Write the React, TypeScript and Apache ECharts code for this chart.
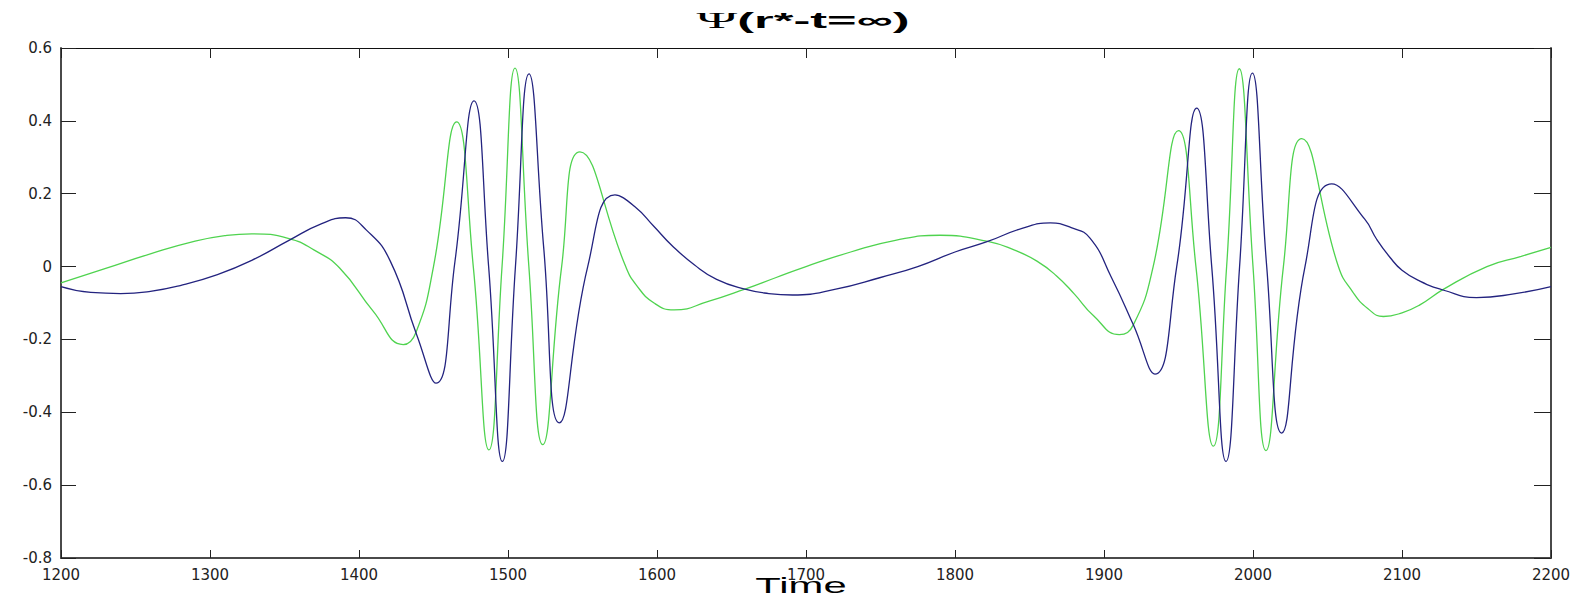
import React, { useEffect, useRef } from "react";
import * as echarts from "echarts";

// Time axis ticks and value axis ticks
const xTicks = [1200, 1300, 1400, 1500, 1600, 1700, 1800, 1900, 2000, 2100, 2200];
const yTicks = [-0.8, -0.6, -0.4, -0.2, 0, 0.2, 0.4, 0.6];

const titlePsi = "Ψ";
const titleRest = "(r*-t=∞)";
const xName = "Time";

// Blue (navy) curve: time values and amplitudes
const blueTime = [
  1200, 1220, 1240, 1260, 1280, 1305, 1328, 1353, 1375, 1391, 1405, 1421, 1438.7, 1451.7,
  1464.4, 1477.2, 1487, 1496.2, 1505, 1514.1, 1524, 1534.4, 1553.5, 1571.8, 1585, 1598,
  1610, 1625, 1640, 1659, 1675, 1691, 1720, 1750, 1775, 1800, 1822, 1845, 1864, 1878,
  1890.6, 1905, 1919.7, 1934.2, 1948.8, 1962.2, 1972.3, 1981.9, 1991, 1999.6, 2009.2,
  2019.2, 2034.9, 2052.8, 2075, 2083, 2092, 2100, 2112, 2128, 2150, 2175, 2200,
];
const blueValue = [
  -0.055, -0.071, -0.074, -0.068, -0.052, -0.022, 0.017, 0.072, 0.118, 0.134, 0.1, 0.015,
  -0.187, -0.32, 0.014, 0.455, 0, -0.535, 0, 0.529, 0.05, -0.429, 0, 0.197, 0.165, 0.11,
  0.058, 0.005, -0.035, -0.062, -0.074, -0.078, -0.062, -0.03, 0, 0.04, 0.069, 0.105, 0.12,
  0.107, 0.078, -0.03, -0.16, -0.295, 0, 0.435, 0, -0.535, 0, 0.531, 0, -0.457, 0, 0.227,
  0.13, 0.075, 0.025, -0.01, -0.04, -0.065, -0.085, -0.075, -0.055,
];

// Green curve: time values and amplitudes
const greenTime = [
  1200, 1230, 1260, 1290, 1310, 1328, 1353, 1370, 1387, 1409.6, 1429.7, 1438.3, 1450,
  1465.5, 1476.7, 1487.2, 1496, 1504.7, 1514, 1523.3, 1536, 1548.3, 1579, 1586, 1598,
  1611.5, 1635, 1659, 1680, 1700, 1730, 1760, 1790, 1822, 1840, 1855, 1868, 1880, 1893,
  1910.3, 1919.7, 1933, 1950, 1961.7, 1973.4, 1982.3, 1990.8, 2000, 2008.7, 2020.4, 2032.7,
  2057.3, 2067, 2077, 2087.5, 2100, 2112, 2128, 2157, 2180, 2200,
];
const greenValue = [
  -0.045, -0.005, 0.035, 0.07, 0.085, 0.09, 0.077, 0.045, -0.004, -0.123, -0.214, -0.18, 0,
  0.397, 0, -0.503, 0, 0.545, 0, -0.489, 0, 0.315, 0, -0.05, -0.1, -0.119, -0.095, -0.062,
  -0.03, 0, 0.04, 0.072, 0.086, 0.069, 0.045, 0.015, -0.025, -0.075, -0.135, -0.187, -0.16,
  0, 0.373, 0, -0.493, 0, 0.543, 0, -0.505, 0, 0.351, 0, -0.07, -0.115, -0.137, -0.127,
  -0.105, -0.062, 0, 0.028, 0.053,
];

const W = 1587;
const H = 599;

export default function App() {
  const ref = useRef<HTMLDivElement>(null);

  useEffect(() => {
    if (!ref.current) return;
    const chart = echarts.init(ref.current, undefined, { renderer: "svg" });

    const blueData = blueTime.map((t, i) => [t, blueValue[i]]);
    const greenData = greenTime.map((t, i) => [t, greenValue[i]]);

    const axisFont = {
      fontFamily: "DejaVu Sans",
      fontSize: 15,
      color: "#222",
    };
    const axisLine = { show: true, onZero: false, lineStyle: { color: "#4a4a4a", width: 2 } };

    chart.setOption({
      animation: false,
      backgroundColor: "#ffffff",
      grid: {
        left: 61,
        right: 36,
        top: 48,
        bottom: 41,
        outerBoundsMode: "none",
      },
      xAxis: [
        {
          type: "value",
          position: "bottom",
          min: xTicks[0],
          max: xTicks[xTicks.length - 1],
          interval: 100,
          axisLine,
          axisTick: { show: true, inside: true, length: 8, lineStyle: { color: "#222", width: 1 } },
          axisLabel: {
            ...axisFont,
            margin: 9,
            formatter: (v: number) => String(v),
          },
          splitLine: { show: false },
        },
        {
          type: "value",
          position: "top",
          min: xTicks[0],
          max: xTicks[xTicks.length - 1],
          interval: 100,
          axisLine: { show: true, onZero: false, lineStyle: { color: "#111", width: 1 } },
          axisTick: { show: true, inside: true, length: 10, lineStyle: { color: "#222", width: 1 } },
          axisLabel: { show: false },
          splitLine: { show: false },
        },
      ],
      yAxis: [
        {
          type: "value",
          position: "left",
          min: yTicks[0],
          max: yTicks[yTicks.length - 1],
          interval: 0.2,
          axisLine,
          axisTick: { show: true, inside: true, length: 15, lineStyle: { color: "#222", width: 1 } },
          axisLabel: {
            ...axisFont,
            margin: 9,
            formatter: (v: number) => String(Math.round(v * 10) / 10),
          },
          splitLine: { show: false },
        },
        {
          type: "value",
          position: "right",
          min: yTicks[0],
          max: yTicks[yTicks.length - 1],
          interval: 0.2,
          axisLine,
          axisTick: { show: true, inside: true, length: 17, lineStyle: { color: "#222", width: 1 } },
          axisLabel: { show: false },
          splitLine: { show: false },
        },
      ],
      series: [
        {
          type: "line",
          name: "green",
          data: greenData,
          xAxisIndex: 0,
          yAxisIndex: 0,
          smooth: 0.5,
          showSymbol: false,
          lineStyle: { color: "#4fd34f", width: 1.3 },
          z: 2,
        },
        {
          type: "line",
          name: "blue",
          data: blueData,
          xAxisIndex: 0,
          yAxisIndex: 0,
          smooth: 0.5,
          showSymbol: false,
          lineStyle: { color: "#23237f", width: 1.3 },
          z: 3,
        },
      ],
      graphic: [
        {
          type: "text",
          x: 803,
          y: 8,
          scaleX: 2.3,
          style: {
            text: "{psi|" + titlePsi + "}{rest|" + titleRest + "}",
            x: 0,
            y: 0,
            textAlign: "center",
            textVerticalAlign: "top",
            rich: {
              psi: {
                fontFamily: "Liberation Serif",
                fontSize: 24,
                fontWeight: "normal",
                fill: "#000",
                color: "#000",
              },
              rest: {
                fontFamily: "Liberation Sans",
                fontSize: 22,
                fontWeight: "bold",
                fill: "#000",
                color: "#000",
              },
            },
          },
        },
        {
          type: "text",
          x: 801,
          y: 574,
          scaleX: 1.9,
          style: {
            text: xName,
            x: 0,
            y: 0,
            textAlign: "center",
            textVerticalAlign: "top",
            font: "22px 'Liberation Sans', Arial, sans-serif",
            fill: "#000",
          },
        },
      ],
    });

    return () => {
      chart.dispose();
    };
  }, []);

  return (
    <div
      ref={ref}
      style={{ position: "fixed", left: 0, top: 0, width: W, height: H, background: "#fff" }}
    />
  );
}
